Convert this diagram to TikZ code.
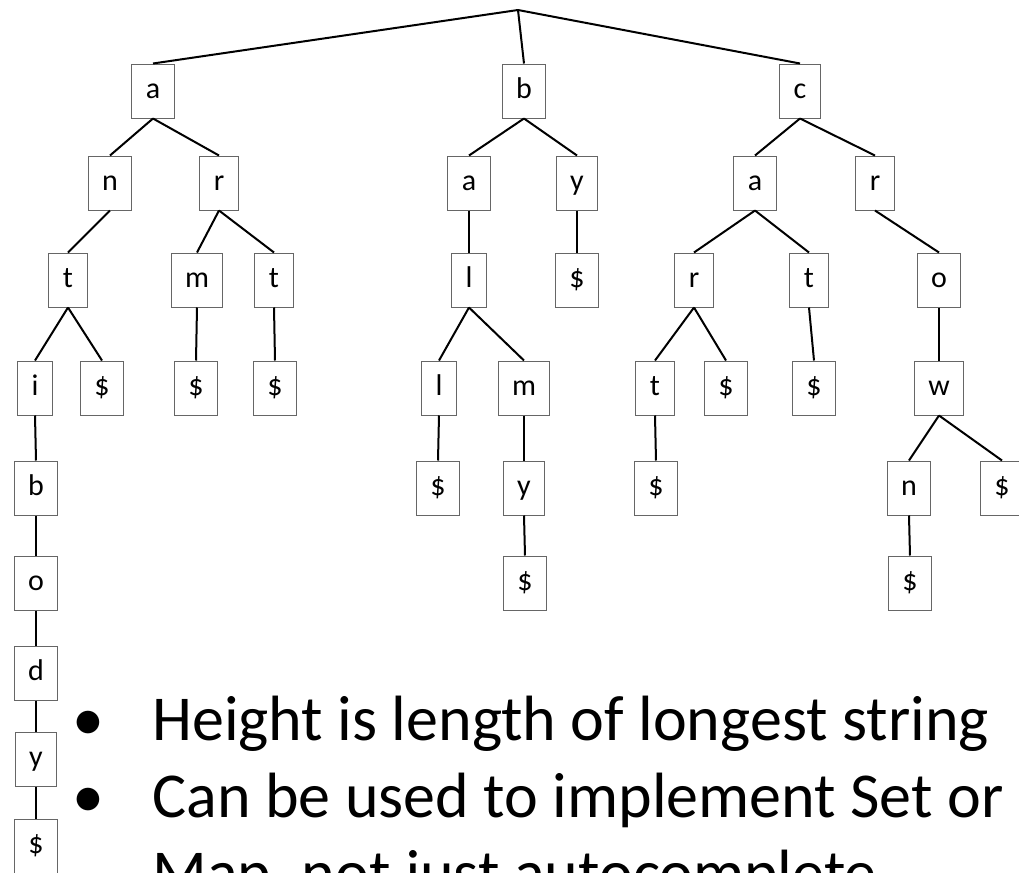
\documentclass[tikz,border=0pt]{standalone}
\usepackage{fontspec}
\setmainfont{Carlito}
\begin{document}
\begin{tikzpicture}[x=0.5pt,y=-0.5pt,
    letter/.style={draw=black!60,line width=0.5pt,fill=white,inner xsep=7pt,inner ysep=0pt,
      minimum height=27pt,text height=10pt,text depth=3pt,font=\fontsize{15}{17}\selectfont},
    edge/.style={line width=1pt},
    point/.style={anchor=base west,inner sep=0pt,font=\fontsize{32}{38.5}\selectfont}]
  \useasboundingbox (0,0) rectangle (1019,873);
  \clip (0,0) rectangle (1019,873);
  \coordinate (top) at (518,10);
  % first letters
  \node[letter] (A) at (153,91){a};
  \node[letter] (B) at (524,91){b};
  \node[letter] (C) at (800,91){c};
  \node[letter] (An) at (110,183){n};
  \node[letter] (Ar) at (219,183){r};
  \node[letter] (Ba) at (469,183){a};
  \node[letter] (By) at (577,183){y};
  \node[letter] (Ca) at (755,183){a};
  \node[letter] (Cr) at (875,183){r};
  \node[letter] (Ant) at (68,280){t};
  \node[letter] (Arm) at (197,280){m};
  \node[letter] (Art) at (274,280){t};
  \node[letter] (Bal) at (469,280){l};
  \node[letter] (Byend) at (577,280){\$};
  \node[letter] (Car) at (694,280){r};
  \node[letter] (Cat) at (809,280){t};
  \node[letter] (Cro) at (939,280){o};
  \node[letter] (Anti) at (35,388){i};
  \node[letter] (Antend) at (102,388){\$};
  \node[letter] (Armend) at (196,388){\$};
  \node[letter] (Artend) at (275,388){\$};
  \node[letter] (Ball) at (439,388){l};
  \node[letter] (Balm) at (524,388){m};
  \node[letter] (Cart) at (655,388){t};
  \node[letter] (Carend) at (726,388){\$};
  \node[letter] (Catend) at (814,388){\$};
  \node[letter] (Crow) at (939,388){w};
  \node[letter] (Antib) at (36,488){b};
  \node[letter] (Ballend) at (438,488){\$};
  \node[letter] (Balmy) at (524,488){y};
  \node[letter] (Cartend) at (656,488){\$};
  \node[letter] (Crown) at (909,488){n};
  \node[letter] (Crowend) at (1002,488){\$};
  \node[letter] (Antibo) at (36,583){o};
  \node[letter] (Balmyend) at (525,583){\$};
  \node[letter] (Crownend) at (910,583){\$};
  \node[letter] (Antibod) at (36,673){d};
  \node[letter] (Antibody) at (36,759){y};
  \node[letter] (Antibodyend) at (36,846){\$};
  % links
  \draw[edge] (top) to (A.north);
  \draw[edge] (top) to (B.north);
  \draw[edge] (top) to (C.north);
  \draw[edge] (A.south) to (An.north);
  \draw[edge] (A.south) to (Ar.north);
  \draw[edge] (B.south) to (Ba.north);
  \draw[edge] (B.south) to (By.north);
  \draw[edge] (C.south) to (Ca.north);
  \draw[edge] (C.south) to (Cr.north);
  \draw[edge] (An.south) to (Ant.north);
  \draw[edge] (Ar.south) to (Arm.north);
  \draw[edge] (Ar.south) to (Art.north);
  \draw[edge] (Ba.south) to (Bal.north);
  \draw[edge] (By.south) to (Byend.north);
  \draw[edge] (Ca.south) to (Car.north);
  \draw[edge] (Ca.south) to (Cat.north);
  \draw[edge] (Cr.south) to (Cro.north);
  \draw[edge] (Ant.south) to (Anti.north);
  \draw[edge] (Ant.south) to (Antend.north);
  \draw[edge] (Arm.south) to (Armend.north);
  \draw[edge] (Art.south) to (Artend.north);
  \draw[edge] (Bal.south) to (Ball.north);
  \draw[edge] (Bal.south) to (Balm.north);
  \draw[edge] (Car.south) to (Cart.north);
  \draw[edge] (Car.south) to (Carend.north);
  \draw[edge] (Cat.south) to (Catend.north);
  \draw[edge] (Cro.south) to (Crow.north);
  \draw[edge] (Anti.south) to (Antib.north);
  \draw[edge] (Ball.south) to (Ballend.north);
  \draw[edge] (Balm.south) to (Balmy.north);
  \draw[edge] (Cart.south) to (Cartend.north);
  \draw[edge] (Crow.south) to (Crown.north);
  \draw[edge] (Crow.south) to (Crowend.north);
  \draw[edge] (Antib.south) to (Antibo.north);
  \draw[edge] (Balmy.south) to (Balmyend.north);
  \draw[edge] (Crown.south) to (Crownend.north);
  \draw[edge] (Antibo.south) to (Antibod.north);
  \draw[edge] (Antibod.south) to (Antibody.north);
  \draw[edge] (Antibody.south) to (Antibodyend.north);
  % notes
  \node[point] (dot1) at (72,740){•};
  \node[point] (note1) at (152,740){Height is length of longest string};
  \node[point] (dot2) at (72,817){•};
  \node[point] (note2) at (152,817){Can be used to implement Set or};
  \node[point] (note3) at (152,894){Map, not just autocomplete};
\end{tikzpicture}
\end{document}
